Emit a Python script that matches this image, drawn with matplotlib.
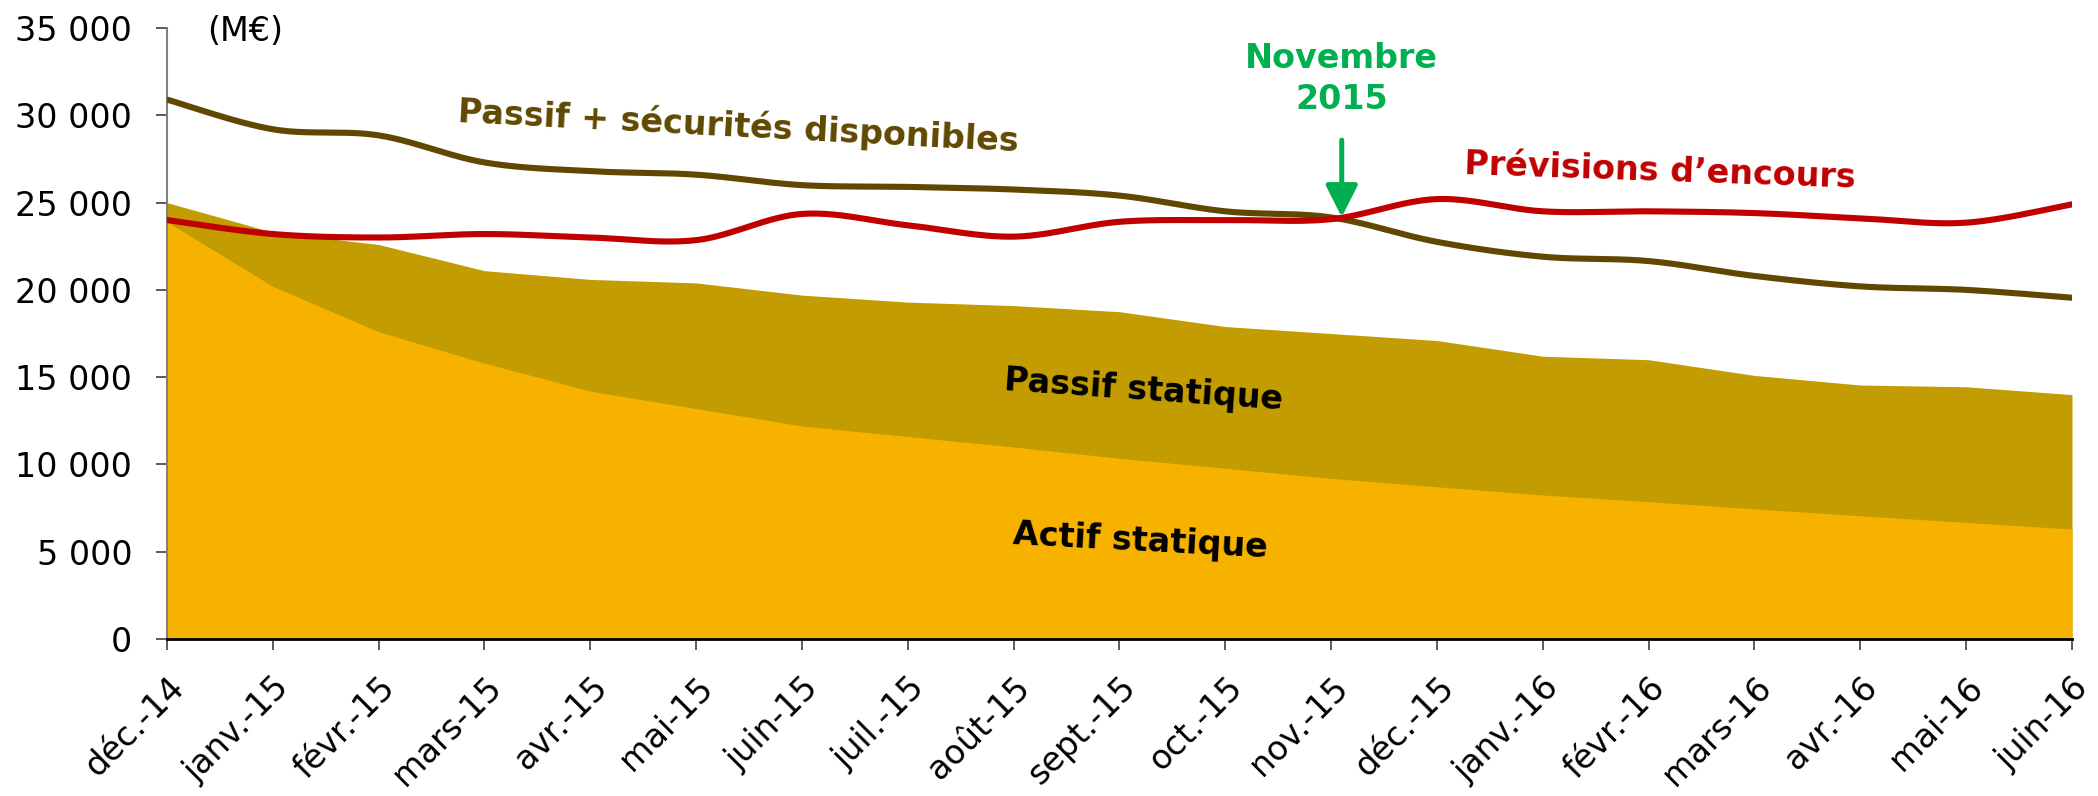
import numpy as np
import matplotlib
matplotlib.use("Agg")
import matplotlib.pyplot as plt
import matplotlib.transforms as mtransforms
from matplotlib.ticker import FuncFormatter

months = ['déc.-14', 'janv.-15', 'févr.-15', 'mars-15', 'avr.-15', 'mai-15',
          'juin-15', 'juil.-15', 'août-15', 'sept.-15', 'oct.-15', 'nov.-15',
          'déc.-15', 'janv.-16', 'févr.-16', 'mars-16', 'avr.-16', 'mai-16', 'juin-16']

actif_statique = [23900, 20200, 17600, 15800, 14200, 13200, 12200, 11600, 11000, 10350,
                  9780, 9200, 8720, 8250, 7870, 7450, 7060, 6680, 6300]
passif_statique = [25000, 23300, 22600, 21100, 20600, 20400, 19700, 19300, 19100, 18750,
                   17900, 17500, 17100, 16200, 16000, 15100, 14550, 14450, 14000]
passif_securites = [30900, 29200, 28850, 27300, 26800, 26600, 26000, 25900, 25750, 25400,
                    24500, 24150, 22750, 21900, 21650, 20800, 20200, 20000, 19550]
previsions = [24000, 23200, 23000, 23200, 23000, 22850, 24350, 23700, 23050, 23900,
              24000, 24050, 25200, 24500, 24500, 24400, 24100, 23850, 24900]

C_ACTIF = '#F7B200'
C_PASSIF = '#C29C00'
C_SECU = '#604800'
C_PREV = '#C00000'
C_GREEN = '#00B050'


def smooth(xs, ys, n=40):
    """Excel-like smoothed line (cubic Bezier with Catmull-Rom control points)."""
    xs = np.asarray(xs, float)
    ys = np.asarray(ys, float)
    P = np.column_stack([xs, ys])
    m = len(P)
    out = []
    t = np.linspace(0, 1, n)
    for i in range(m - 1):
        p0 = P[i - 1] if i > 0 else P[i]
        p1 = P[i]
        p2 = P[i + 1]
        p3 = P[i + 2] if i + 2 < m else P[i + 1]
        c1 = p1 + (p2 - p0) / 6.0
        c2 = p2 - (p3 - p1) / 6.0
        seg = ((1 - t)[:, None] ** 3 * p1 + 3 * ((1 - t) ** 2 * t)[:, None] * c1
               + 3 * ((1 - t) * t ** 2)[:, None] * c2 + (t ** 3)[:, None] * p2)
        out.append(seg if i == 0 else seg[1:])
    out = np.vstack(out)
    return out[:, 0], out[:, 1]


fig = plt.figure(figsize=(20.98, 7.96), dpi=100)
ax = fig.add_axes([0.0796, 0.1972, 0.908, 0.7676])

x = np.arange(len(months))
ax.fill_between(x, 0, passif_statique, color=C_PASSIF, lw=0, zorder=1)
ax.fill_between(x, 0, actif_statique, color=C_ACTIF, lw=0, zorder=2)

sx, sy = smooth(x, passif_securites)
ax.plot(sx, sy, color=C_SECU, lw=4.4, solid_capstyle='round', zorder=3)
px, py = smooth(x, previsions)
ax.plot(px, py, color=C_PREV, lw=4.4, solid_capstyle='round', zorder=4)

ax.set_xlim(0, len(months) - 1)
ax.set_ylim(0, 35000)
ax.set_yticks(np.arange(0, 35001, 5000))
ax.yaxis.set_major_formatter(FuncFormatter(lambda v, p: f"{int(v):,}".replace(",", " ")))
ax.set_xticks(x)
ax.set_xticklabels(months, rotation=45, ha='right', va='top', rotation_mode='anchor')

offset = mtransforms.ScaledTranslation(7 / 100, 0, fig.dpi_scale_trans)
for lab in ax.get_xticklabels():
    lab.set_transform(lab.get_transform() + offset)

for s in ['top', 'right']:
    ax.spines[s].set_visible(False)
ax.spines['left'].set_color('#808080')
ax.spines['left'].set_linewidth(1.5)
ax.spines['bottom'].set_color('black')
ax.spines['bottom'].set_linewidth(2)
ax.spines['bottom'].set_zorder(5)
ax.tick_params(axis='y', direction='out', length=8, width=1.2, color='#404040',
               labelsize=24, pad=17)
ax.tick_params(axis='x', direction='out', length=8, width=1.2, color='#404040',
               labelsize=24, pad=15)

fs = 24
ax.text(0.74, 34800, '(M€)', fontsize=fs, ha='center', va='center')
ax.text(5.4, 29385, 'Passif + sécurités disponibles', fontsize=fs, fontweight='bold',
        color=C_SECU, ha='center', va='center', rotation=-3, rotation_mode='anchor', zorder=6)
ax.text(14.11, 26800, 'Prévisions d’encours', fontsize=fs, fontweight='bold',
        color=C_PREV, ha='center', va='center', rotation=-2, rotation_mode='anchor', zorder=6)
ax.text(9.23, 14263, 'Passif statique', fontsize=fs, fontweight='bold',
        color='black', ha='center', va='center', rotation=-4, rotation_mode='anchor', zorder=6)
ax.text(9.2, 5613, 'Actif statique', fontsize=fs, fontweight='bold',
        color='black', ha='center', va='center', rotation=-3, rotation_mode='anchor', zorder=6)
ax.text(11.1, 32100, 'Novembre\n2015', fontsize=fs, fontweight='bold', color=C_GREEN,
        ha='center', va='center', linespacing=1.3, zorder=6)
ax.annotate('', xy=(11.1, 24170), xytext=(11.1, 28580),
            arrowprops=dict(arrowstyle='-|>,head_length=0.97,head_width=0.49',
                            mutation_scale=20, lw=3.6, color=C_GREEN,
                            shrinkA=0, shrinkB=0), zorder=7)

fig.savefig('out.png', dpi=100)
